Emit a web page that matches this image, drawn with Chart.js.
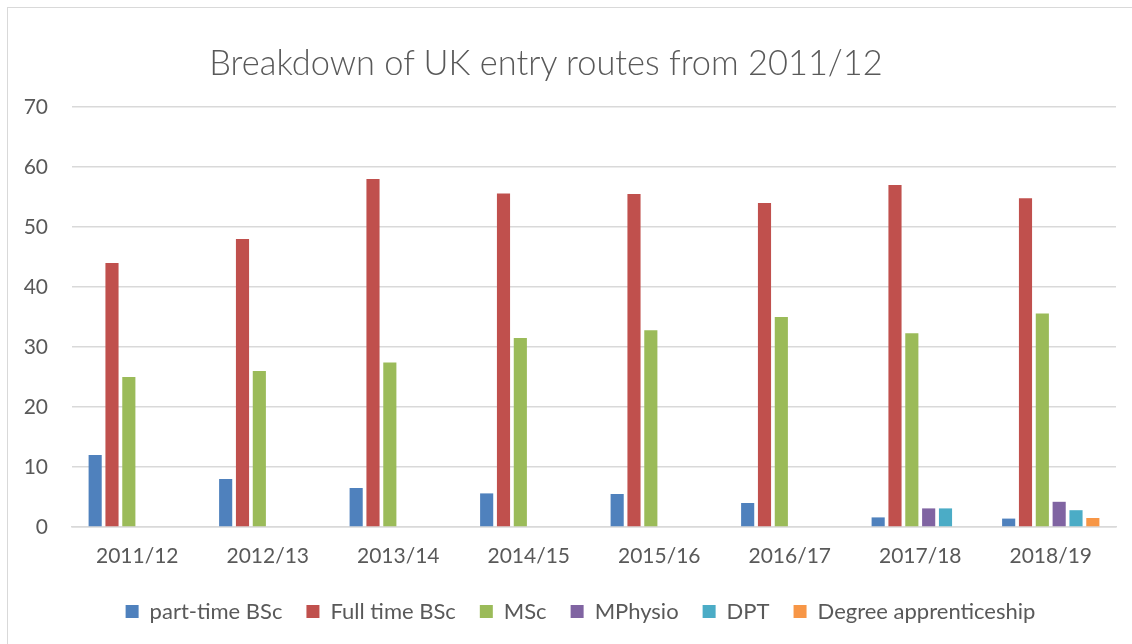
<!DOCTYPE html>
<html>
<head>
<meta charset="utf-8">
<script src="https://cdn.jsdelivr.net/npm/chart.js@4/dist/chart.umd.min.js"></script>
<style>
  html, body { margin: 0; padding: 0; background: #fff; }
  #frame { position: absolute; left: 7px; top: 7px; width: 1140px; height: 660px; border: 1px solid #d9d9d9; box-sizing: border-box; }
  #wrap { position: absolute; left: 0; top: 0; width: 1132px; height: 644px; }
  #title { position: absolute; left: 0; top: 41px; width: 1092px; text-align: center; font-family: Lato; font-weight: 300; font-size: 34.4px; line-height: 42px; color: #595959; }
</style>
</head>
<body>
<div id="frame"></div>
<div id="wrap"><canvas id="chart"></canvas></div>
<div id="title">Breakdown of UK entry routes from 2011/12</div>
<script>
const years = ["2011/12", "2012/13", "2013/14", "2014/15", "2015/16", "2016/17", "2017/18", "2018/19"];
const partTimeBSc = [12, 8, 6.5, 5.6, 5.5, 4, 1.6, 1.4];
const fullTimeBSc = [44, 48, 58, 55.6, 55.5, 54, 57, 54.8];
const msc = [25, 26, 27.4, 31.5, 32.8, 35, 32.3, 35.6];
const mphysio = [null, null, null, null, null, null, 3.1, 4.2];
const dpt = [null, null, null, null, null, null, 3.1, 2.8];
const apprenticeship = [null, null, null, null, null, null, null, 1.5];
const yTicks = [0, 10, 20, 30, 40, 50, 60, 70];

const series = [
  { label: "part-time BSc", data: partTimeBSc, color: "#4f81bd" },
  { label: "Full time BSc", data: fullTimeBSc, color: "#c0504d" },
  { label: "MSc", data: msc, color: "#9bbb59" },
  { label: "MPhysio", data: mphysio, color: "#8064a2" },
  { label: "DPT", data: dpt, color: "#4bacc6" },
  { label: "Degree apprenticeship", data: apprenticeship, color: "#f79646" },
];

const textColor = "#595959";
const gridColor = "#d9d9d9";

// nudge the legend box so it centres a bit right of the canvas centre, like the original
const legendShift = {
  id: "legendShift",
  afterLayout(chart) {
    chart.legend.left += 37;
  },
};

new Chart(document.getElementById("chart"), {
  type: "bar",
  data: {
    labels: years,
    datasets: series.map((s) => ({
      label: s.label,
      data: s.data,
      backgroundColor: s.color,
      borderWidth: 0,
      categoryPercentage: 0.774,
      barPercentage: 0.78,
    })),
  },
  options: {
    responsive: true,
    maintainAspectRatio: false,
    animation: false,
    layout: { padding: { left: 8, right: 16, top: 107, bottom: 11.5 } },
    scales: {
      x: {
        afterFit: (scale) => { scale.height = 49.5; },
        grid: { display: false, drawTicks: false },
        border: { color: gridColor, width: 1.5 },
        ticks: { color: textColor, font: { family: "Lato", size: 21 }, padding: 17 },
      },
      y: {
        min: 0,
        max: 70,
        afterBuildTicks: (scale) => { scale.ticks = yTicks.map((v) => ({ value: v })); },
        afterFit: (scale) => { scale.width = 64; },
        grid: { color: gridColor, lineWidth: 1.5, drawTicks: false },
        border: { display: false },
        ticks: { color: textColor, font: { family: "Lato", size: 21 }, padding: 24 },
      },
    },
    plugins: {
      title: { display: false },
      legend: {
        position: "bottom",
        labels: {
          color: textColor,
          font: { family: "Lato", size: 22 },
          boxWidth: 13,
          boxHeight: 13,
          padding: 24,
        },
      },
      tooltip: { enabled: false },
    },
  },
  plugins: [legendShift],
});
</script>
</body>
</html>
